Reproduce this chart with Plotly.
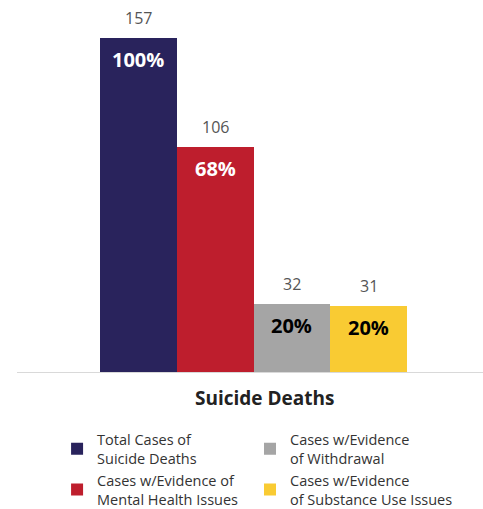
import plotly.graph_objects as go

names = ["Total Cases of<br>Suicide Deaths",
         "Cases w/Evidence of<br>Mental Health Issues",
         "Cases w/Evidence<br>of Withdrawal",
         "Cases w/Evidence<br>of Substance Use Issues"]
counts = [157, 106, 32, 31]
percents = ["100%", "68%", "20%", "20%"]
colors = ["#29235C", "#BE1E2D", "#A5A5A5", "#F9CB33"]
pct_colors = ["white", "white", "black", "black"]
legend_groups = ["legend", "legend", "legend2", "legend2"]
category_title = "Suicide Deaths"

fig = go.Figure()
for i, (n, c, p, col, pc, lg) in enumerate(zip(names, counts, percents, colors, pct_colors, legend_groups)):
    fig.add_trace(go.Bar(
        x=[i], y=[c], width=[1], name=n, marker=dict(color=col, line=dict(width=0)),
        legend=lg, hoverinfo="skip"))
    fig.add_annotation(x=i, y=c, text=str(c), showarrow=False, yanchor="bottom",
                       yshift=7, font=dict(family="Open Sans", size=16, color="#555555"))
    fig.add_annotation(x=i, y=c, text="<b>" + p + "</b>", showarrow=False, yanchor="top",
                       yshift=-6, font=dict(family="Open Sans", size=20, color=pc))

fig.add_annotation(xref="paper", yref="paper", x=0.532, y=-0.072, text="<b>" + category_title + "</b>",
                   showarrow=False, yanchor="middle",
                   font=dict(family="Open Sans", size=19, color="#222222"))

legend_style = dict(orientation="v", xanchor="left", y=-0.142, yanchor="top",
                    tracegroupgap=0, traceorder="normal",
                    font=dict(family="Open Sans", size=14.5, color="#333333"),
                    itemclick=False, itemdoubleclick=False, bgcolor="rgba(0,0,0,0)")

fig.update_layout(
    width=483, height=509,
    margin=dict(l=17, r=0, t=10, b=137, autoexpand=False),
    paper_bgcolor="white", plot_bgcolor="white",
    bargap=0,
    xaxis=dict(range=[-1.5814, 4.490], showticklabels=False, ticks="", showgrid=False,
               zeroline=False, showline=True, linecolor="#d9d9d9", linewidth=1, fixedrange=True),
    yaxis=dict(range=[0, 170.2], visible=False, fixedrange=True),
    showlegend=True,
    legend=dict(x=0.086, **legend_style),
    legend2=dict(x=0.5, **legend_style),
    font=dict(family="Open Sans"),
)
fig.write_html("out.html")
